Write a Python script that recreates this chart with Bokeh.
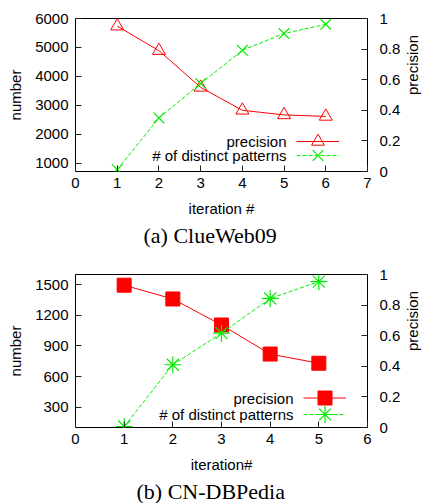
import math
from bokeh.plotting import figure
from bokeh.models import Range1d, LinearAxis, FixedTicker, Legend, LegendItem, Label, Title
from bokeh.layouts import column
from bokeh.embed import file_html
from bokeh.resources import INLINE

# ---------------- data ----------------
# (a) ClueWeb09
iter_a = [1, 2, 3, 4, 5, 6]
prec_a = [0.95, 0.79, 0.55, 0.40, 0.37, 0.36]
patt_a = [775, 2560, 3750, 4900, 5480, 5800]
num_ticks_a = [1000, 2000, 3000, 4000, 5000, 6000]
x_ticks_a = [0, 1, 2, 3, 4, 5, 6, 7]

# (b) CN-DBPedia
iter_b = [1, 2, 3, 4, 5]
prec_b = [0.93, 0.84, 0.67, 0.48, 0.42]
patt_b = [110, 715, 1025, 1365, 1530]
num_ticks_b = [300, 600, 900, 1200, 1500]
x_ticks_b = [0, 1, 2, 3, 4, 5, 6]

prec_ticks = [0, 0.2, 0.4, 0.6, 0.8, 1]

series_names = ["precision", "# of distinct patterns"]
captions = ["(a) ClueWeb09", "(b) CN-DBPedia"]
x_labels = ["iteration #", "iteration#"]

RED = "#ff0000"
GREEN = "#00ee00"
FONT = "Liberation Sans"
SERIF = "Liberation Serif"
FS = "15px"


def style_axis(ax, ticks):
    ax.ticker = FixedTicker(ticks=ticks)
    ax.axis_line_color = None
    ax.major_tick_in = 6
    ax.major_tick_out = 0
    ax.minor_tick_line_color = None
    ax.major_tick_line_color = "#222222"
    ax.major_label_text_font = FONT
    ax.major_label_text_font_size = FS
    ax.major_label_text_color = "#000000"
    ax.axis_label_text_font = FONT
    ax.axis_label_text_font_size = FS
    ax.axis_label_text_font_style = "normal"
    ax.axis_label_text_color = "#000000"


def make_panel(iters, prec, patt, x_end, y_rng, num_ticks, x_ticks, xlabel, caption, cap_offset,
               prec_marker, prec_fill, prec_size, patt_marker, patt_size,
               top_border, bottom_border, leg_x, txt_x, rows_y):
    p = figure(frame_width=292, frame_height=153,
               x_range=Range1d(0, x_end), y_range=Range1d(*y_rng),
               output_backend="svg", toolbar_location=None, title=None,
               min_border_left=75, min_border_right=56,
               min_border_top=top_border, min_border_bottom=bottom_border)
    p.extra_y_ranges = {"prec": Range1d(0, 1)}
    p.xgrid.visible = False
    p.ygrid.visible = False
    p.outline_line_color = "#000000"
    p.outline_line_width = 1
    p.background_fill_color = "white"
    p.border_fill_color = "white"

    right = LinearAxis(y_range_name="prec", axis_label="precision")
    p.add_layout(right, "right")

    style_axis(p.xaxis[0], x_ticks)
    p.xaxis[0].axis_label = xlabel
    p.xaxis[0].major_label_standoff = 6
    p.xaxis[0].axis_label_standoff = 9
    style_axis(p.yaxis[0], num_ticks)
    p.yaxis[0].axis_label = "number"
    p.yaxis[0].major_label_standoff = 7
    p.yaxis[0].axis_label_standoff = 8
    style_axis(right, prec_ticks)
    right.major_label_standoff = 12
    right.axis_label_standoff = 9
    right.axis_label_orientation = math.pi / 2
    right.major_label_overrides = {0: "0", 1: "1"}

    # precision (right axis)
    l1 = p.line(iters, prec, y_range_name="prec", line_color=RED, line_width=1)
    if prec_fill:
        s1 = p.scatter(iters, prec, y_range_name="prec", marker=prec_marker, size=prec_size,
                       line_color=RED, fill_color=RED, line_width=1)
    else:
        s1 = p.scatter(iters, prec, y_range_name="prec", marker=prec_marker, size=prec_size,
                       line_color=RED, fill_color=None, line_width=1)
    # patterns (left axis)
    l2 = p.line(iters, patt, line_color=GREEN, line_width=1, line_dash="4 2")
    s2 = p.scatter(iters, patt, marker=patt_marker, size=patt_size,
                   line_color=GREEN, line_width=1.2)

    # gnuplot-like key: text right-aligned, sample to its right
    for (rs, msize, ry, name) in [((l1, s1), prec_size, rows_y[0], series_names[0]),
                                  ((l2, s2), patt_size, rows_y[1], series_names[1])]:
        gh = msize / 0.4
        leg = Legend(items=[LegendItem(label=" ", renderers=list(rs))],
                     location=(leg_x, ry - gh / 2), glyph_width=43, glyph_height=int(round(gh)),
                     padding=0, margin=0, spacing=0, border_line_color=None,
                     background_fill_alpha=0, label_text_font_size="1px",
                     label_standoff=0, label_width=1, label_height=1)
        p.add_layout(leg)
        p.add_layout(Label(x=txt_x, y=ry, x_units="screen", y_units="screen", text=name,
                           text_align="right", text_baseline="middle", text_font=FONT,
                           text_font_size=FS, text_color="#000000"))

    cap = Title(text=caption, align="left", offset=cap_offset, text_font=SERIF,
                text_font_size="22px", text_font_style="normal", text_color="#000000",
                standoff=2)
    p.add_layout(cap, "below")
    return p


pa = make_panel(iter_a, prec_a, patt_a, 7, (710, 6000), num_ticks_a, x_ticks_a, x_labels[0],
                captions[0], 68, "triangle", False, 13, "x", 15,
                18, 87, 221, 211, (30, 15.7))
pb = make_panel(iter_b, prec_b, patt_b, 6, (100, 1600), num_ticks_b, x_ticks_b, x_labels[1],
                captions[1], 61, "square", True, 14, "asterisk", 17,
                16, 76, 228, 218, (29.4, 13.4))

layout = column(pa, pb, spacing=0)
open("out.html", "w").write(file_html(layout, INLINE))
